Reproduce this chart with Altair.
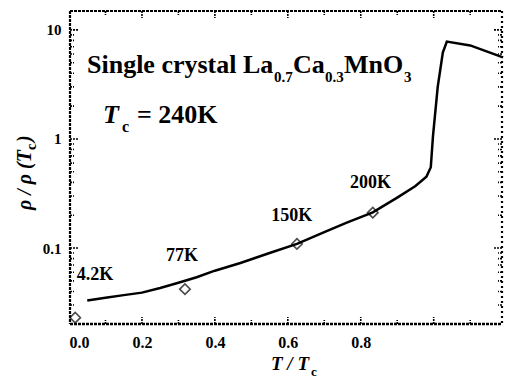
import altair as alt
import pandas as pd

# ---- data ----
curve_x = [0.05, 0.1, 0.15, 0.2, 0.25, 0.3, 0.35, 0.4, 0.47, 0.55, 0.625, 0.7, 0.76, 0.833,
           0.9, 0.95, 0.98, 0.992, 0.998, 1.011, 1.025, 1.036, 1.1, 1.19]
curve_y = [0.033, 0.035, 0.037, 0.039, 0.043, 0.048, 0.054, 0.062, 0.073, 0.09, 0.109, 0.14,
           0.17, 0.212, 0.29, 0.37, 0.45, 0.55, 1.06, 3.0, 6.2, 7.8, 7.2, 5.6]

pt_x = [0.017, 0.318, 0.625, 0.833]
pt_y = [0.023, 0.042, 0.109, 0.211]
pt_labels = ["4.2K", "77K", "150K", "200K"]
label_x = [0.071, 0.31, 0.611, 0.827]
label_y = [0.0565, 0.0845, 0.197, 0.394]

x_tick_labels = [0.0, 0.2, 0.4, 0.6, 0.8]
x_major = [0.2, 0.4, 0.6, 0.8, 1.0]
x_minor = [0.1, 0.3, 0.5, 0.7, 0.9, 1.1]
y_tick_labels = [0.1, 1, 10]
y_minor = [0.03, 0.04, 0.05, 0.06, 0.07, 0.08, 0.09,
           0.2, 0.3, 0.4, 0.5, 0.6, 0.7, 0.8, 0.9,
           2, 3, 4, 5, 6, 7, 8, 9]

W, H = 434, 315
X0, X1 = 0.0, 1.19
Y0, Y1 = 0.0197, 15.2
FONT = "Liberation Serif"
IN = 1  # frame drawn just inside the plot edge

curve = pd.DataFrame({"x": curve_x, "y": curve_y})
pts = pd.DataFrame({"x": pt_x, "y": pt_y})
labs = pd.DataFrame({"x": label_x, "y": label_y, "t": pt_labels})
one = pd.DataFrame({"a": [0]})
xmaj = pd.DataFrame({"x": x_major})
xmin = pd.DataFrame({"x": x_minor})
ymaj = pd.DataFrame({"y": y_tick_labels})
ymin = pd.DataFrame({"y": y_minor})

xs = alt.Scale(domain=[X0, X1], nice=False, zero=False)
ys = alt.Scale(type="log", domain=[Y0, Y1], nice=False)

X = alt.X("x:Q", scale=xs,
          axis=alt.Axis(values=x_tick_labels, format=".1f", ticks=False, grid=False,
                        domain=False, title=None, labelFont=FONT,
                        labelFontWeight="bold", labelFontSize=16, labelPadding=9,
                        labelColor="black"))
Y = alt.Y("y:Q", scale=ys,
          axis=alt.Axis(values=y_tick_labels, ticks=False, grid=False, title=None,
                        domain=False,
                        labelExpr="datum.value >= 10 ? '10' : (datum.value >= 1 ? '1' : '0.1')",
                        labelFont=FONT, labelFontWeight="bold", labelFontSize=15,
                        labelPadding=8, labelColor="black"))

line = alt.Chart(curve).mark_line(color="black", strokeWidth=2.5).encode(x=X, y=Y)
points = alt.Chart(pts).mark_point(shape="diamond", filled=False, color="black",
                                   size=110, strokeWidth=1.6).encode(x="x:Q", y="y:Q")
ptext = alt.Chart(labs).mark_text(font=FONT, fontWeight="bold", fontSize=18,
                                  color="black").encode(x="x:Q", y="y:Q", text="t:N")

def edge(x0, x1, y0, y1, dash, width=2.2):
    return alt.Chart(one).mark_rule(color="black", strokeWidth=width,
                                    strokeDash=dash).encode(
        x=alt.value(x0), x2=alt.value(x1), y=alt.value(y0), y2=alt.value(y1))

NEAR_SOLID = [3, 1]
frame = [
    edge(IN, IN, IN, H - IN, NEAR_SOLID),
    edge(IN, W - IN, H - IN, H - IN, NEAR_SOLID, 2.6),
    edge(IN, W - IN, IN, IN, NEAR_SOLID),
    edge(W - IN, W - IN, IN, H - IN, [2, 3]),
]

TD = [2, 1]
def vrule(df, y0, y1):
    return alt.Chart(df).mark_rule(color="black", strokeWidth=1.6, strokeDash=TD).encode(
        x="x:Q", y=alt.value(y0), y2=alt.value(y1))

def hrule(df, x0, x1):
    return alt.Chart(df).mark_rule(color="black", strokeWidth=1.6, strokeDash=TD).encode(
        y="y:Q", x=alt.value(x0), x2=alt.value(x1))

ticks = [
    vrule(xmaj, H - IN, H - IN - 7), vrule(xmin, H - IN, H - IN - 4),
    vrule(xmaj, IN, IN + 7), vrule(xmin, IN, IN + 4),
    hrule(ymaj, IN, IN + 8), hrule(ymin, IN, IN + 4),
    hrule(ymaj, W - IN, W - IN - 8), hrule(ymin, W - IN, W - IN - 4),
]

def txt(s, x, y, size, italic=False, angle=None, align="left"):
    kw = dict(font=FONT, fontWeight="bold", fontSize=size, color="black",
              align=align, baseline="alphabetic")
    if italic:
        kw["fontStyle"] = "italic"
    if angle is not None:
        kw["angle"] = angle
    return alt.Chart(one).mark_text(**kw).encode(
        x=alt.value(x), y=alt.value(y), text=alt.value(s))

annots = [
    txt("Single crystal La", 18, 63, 26),
    txt("0.7", 205, 72, 15),
    txt("Ca", 224, 63, 26),
    txt("0.3", 256, 72, 15),
    txt("MnO", 275, 63, 26),
    txt("3", 335, 72, 15),
    txt("T", 34, 113, 26, italic=True),
    txt("c", 53, 122, 16),
    txt("= 240K", 68, 113, 26),
    # y title
    txt("ρ / ρ (T", -38, 140, 20, italic=True, angle=270, align="right"),
    txt("c", -33, 140, 14, angle=270),
    txt(")", -38, 132, 20, italic=True, angle=270),
    # x title
    txt("T / T", 240, 360, 19, italic=True, align="right"),
    txt("c", 242, 366, 13),
]

chart = alt.layer(line, points, ptext, *frame, *ticks, *annots).properties(
    width=W, height=H,
    padding={"left": 69, "top": 10, "right": 2, "bottom": 53},
    autosize="none",
    background="white",
).configure_view(stroke=None)

chart.save("out.html", embed_options={"renderer": "svg", "actions": False})
